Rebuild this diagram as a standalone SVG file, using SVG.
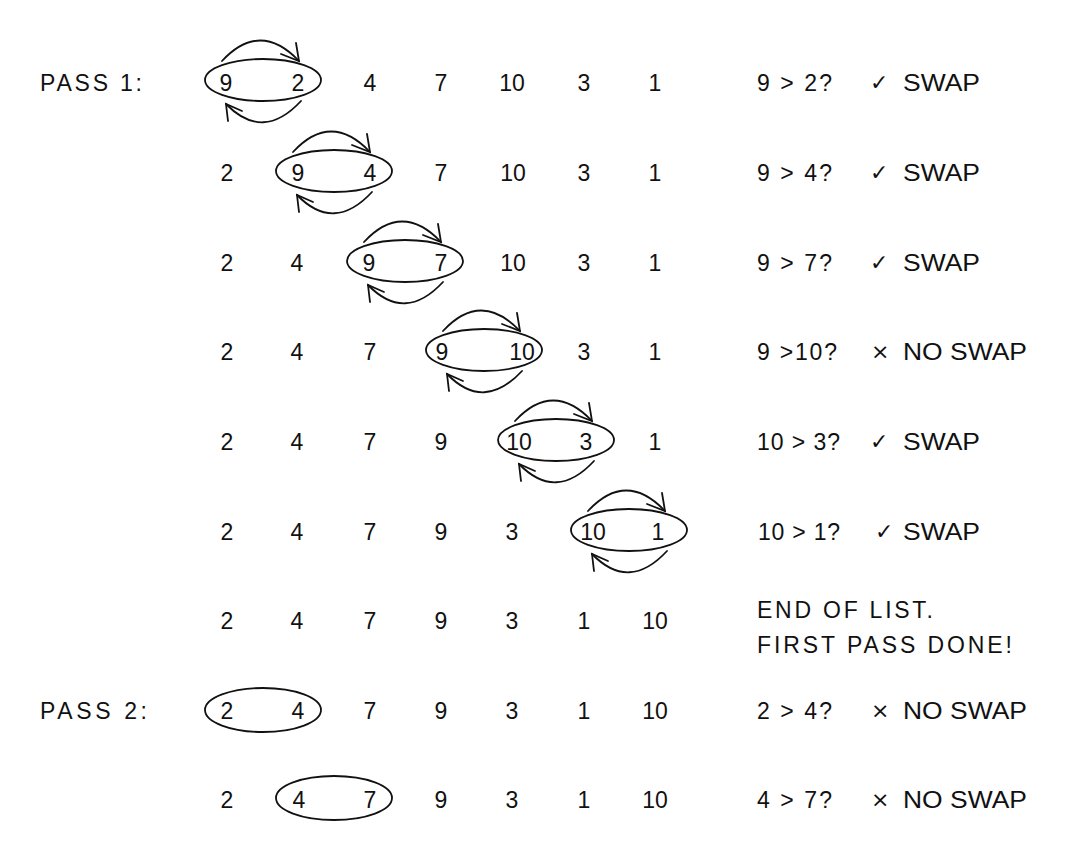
<svg xmlns="http://www.w3.org/2000/svg" xmlns:xlink="http://www.w3.org/1999/xlink" width="1073" height="865" viewBox="0 0 1073 865">
<style>
  text { font-family: "Liberation Sans", "DejaVu Sans", sans-serif; font-size: 23px; fill: #111; }
  .n { text-anchor: middle; }
  .sym { font-family: "DejaVu Sans", sans-serif; font-size: 22px; }
  .ring { fill: none; stroke: #111; stroke-width: 1.8; }
  .arc { fill: none; stroke: #111; stroke-width: 1.8; stroke-linecap: round; }
</style>
<defs>
  <g id="swaparcs">
    <path class="arc" d="M -41 -19 Q -3 -60 36 -19"/>
    <path class="arc" d="M 33 -37 L 36 -19 L 18 -26"/>
    <path class="arc" d="M 38 21 Q 0 62 -37 24"/>
    <path class="arc" d="M -35 41 L -37 24 L -21 31"/>
  </g>
</defs>
<rect width="1073" height="865" fill="#fff"/>

<g id="connectors">
  <use xlink:href="#swaparcs" href="#swaparcs" x="263" y="80"/>
  <use xlink:href="#swaparcs" href="#swaparcs" x="334" y="171"/>
  <use xlink:href="#swaparcs" href="#swaparcs" x="405" y="261"/>
  <use xlink:href="#swaparcs" href="#swaparcs" x="484" y="350"/>
  <use xlink:href="#swaparcs" href="#swaparcs" x="556" y="440"/>
  <use xlink:href="#swaparcs" href="#swaparcs" x="629" y="530"/>
</g>

<g id="row1">
  <text x="40" y="91" textLength="102" lengthAdjust="spacing">PASS 1:</text>
  <ellipse class="ring" cx="263" cy="80" rx="58" ry="21"/>
  <text class="n" x="226" y="91">9</text><text class="n" x="298" y="91">2</text><text class="n" x="370" y="91">4</text><text class="n" x="441" y="91">7</text><text class="n" x="512" y="91">10</text><text class="n" x="584" y="91">3</text><text class="n" x="655" y="91">1</text>
  <text x="757" y="91" textLength="75" lengthAdjust="spacing">9 &gt; 2?</text>
  <text class="sym" x="870" y="90">✓</text>
  <text x="903" y="91" textLength="77" lengthAdjust="spacingAndGlyphs">SWAP</text>
</g>

<g id="row2">
  <ellipse class="ring" cx="334" cy="171" rx="58" ry="21"/>
  <text class="n" x="227" y="181">2</text><text class="n" x="298" y="181">9</text><text class="n" x="370" y="181">4</text><text class="n" x="441" y="181">7</text><text class="n" x="513" y="181">10</text><text class="n" x="584" y="181">3</text><text class="n" x="655" y="181">1</text>
  <text x="757" y="181" textLength="75" lengthAdjust="spacing">9 &gt; 4?</text>
  <text class="sym" x="870" y="180">✓</text>
  <text x="903" y="181" textLength="77" lengthAdjust="spacingAndGlyphs">SWAP</text>
</g>

<g id="row3">
  <ellipse class="ring" cx="405" cy="261" rx="58" ry="21"/>
  <text class="n" x="227" y="271">2</text><text class="n" x="297" y="271">4</text><text class="n" x="369" y="271">9</text><text class="n" x="441" y="271">7</text><text class="n" x="513" y="271">10</text><text class="n" x="584" y="271">3</text><text class="n" x="655" y="271">1</text>
  <text x="757" y="271" textLength="75" lengthAdjust="spacing">9 &gt; 7?</text>
  <text class="sym" x="870" y="270">✓</text>
  <text x="903" y="271" textLength="77" lengthAdjust="spacingAndGlyphs">SWAP</text>
</g>

<g id="row4">
  <ellipse class="ring" cx="484" cy="350" rx="58" ry="21"/>
  <text class="n" x="227" y="360">2</text><text class="n" x="297" y="360">4</text><text class="n" x="370" y="360">7</text><text class="n" x="442" y="360">9</text><text class="n" x="522" y="360">10</text><text class="n" x="584" y="360">3</text><text class="n" x="655" y="360">1</text>
  <text x="757" y="360" textLength="80" lengthAdjust="spacing">9 &gt;10?</text>
  <text class="sym" x="871" y="359">×</text>
  <text x="903" y="360" textLength="124" lengthAdjust="spacingAndGlyphs">NO SWAP</text>
</g>

<g id="row5">
  <ellipse class="ring" cx="556" cy="440" rx="58" ry="21"/>
  <text class="n" x="227" y="450">2</text><text class="n" x="297" y="450">4</text><text class="n" x="370" y="450">7</text><text class="n" x="441" y="450">9</text><text class="n" x="519" y="450">10</text><text class="n" x="586" y="450">3</text><text class="n" x="655" y="450">1</text>
  <text x="757" y="450" textLength="83" lengthAdjust="spacing">10 &gt; 3?</text>
  <text class="sym" x="870" y="449">✓</text>
  <text x="903" y="450" textLength="77" lengthAdjust="spacingAndGlyphs">SWAP</text>
</g>

<g id="row6">
  <ellipse class="ring" cx="629" cy="530" rx="58" ry="21"/>
  <text class="n" x="227" y="540">2</text><text class="n" x="297" y="540">4</text><text class="n" x="370" y="540">7</text><text class="n" x="441" y="540">9</text><text class="n" x="512" y="540">3</text><text class="n" x="593" y="540">10</text><text class="n" x="658" y="540">1</text>
  <text x="758" y="540" textLength="82" lengthAdjust="spacing">10 &gt; 1?</text>
  <text class="sym" x="875" y="539">✓</text>
  <text x="903" y="540" textLength="77" lengthAdjust="spacingAndGlyphs">SWAP</text>
</g>

<g id="row7">
  <text class="n" x="227" y="629">2</text><text class="n" x="297" y="629">4</text><text class="n" x="370" y="629">7</text><text class="n" x="441" y="629">9</text><text class="n" x="512" y="629">3</text><text class="n" x="584" y="629">1</text><text class="n" x="655" y="629">10</text>
  <text x="757" y="618" textLength="176" lengthAdjust="spacing">END OF LIST.</text>
  <text x="757" y="653" textLength="255" lengthAdjust="spacing">FIRST PASS DONE!</text>
</g>

<g id="row8">
  <text x="40" y="719" textLength="107" lengthAdjust="spacing">PASS 2:</text>
  <ellipse class="ring" cx="263" cy="710" rx="58" ry="22"/>
  <text class="n" x="227" y="719">2</text><text class="n" x="298" y="719">4</text><text class="n" x="370" y="719">7</text><text class="n" x="441" y="719">9</text><text class="n" x="512" y="719">3</text><text class="n" x="584" y="719">1</text><text class="n" x="655" y="719">10</text>
  <text x="757" y="719" textLength="75" lengthAdjust="spacing">2 &gt; 4?</text>
  <text class="sym" x="871" y="718">×</text>
  <text x="903" y="719" textLength="124" lengthAdjust="spacingAndGlyphs">NO SWAP</text>
</g>

<g id="row9">
  <ellipse class="ring" cx="334" cy="798" rx="58" ry="22"/>
  <text class="n" x="227" y="808">2</text><text class="n" x="299" y="808">4</text><text class="n" x="370" y="808">7</text><text class="n" x="441" y="808">9</text><text class="n" x="512" y="808">3</text><text class="n" x="584" y="808">1</text><text class="n" x="655" y="808">10</text>
  <text x="757" y="808" textLength="75" lengthAdjust="spacing">4 &gt; 7?</text>
  <text class="sym" x="871" y="807">×</text>
  <text x="903" y="808" textLength="124" lengthAdjust="spacingAndGlyphs">NO SWAP</text>
</g>
</svg>
